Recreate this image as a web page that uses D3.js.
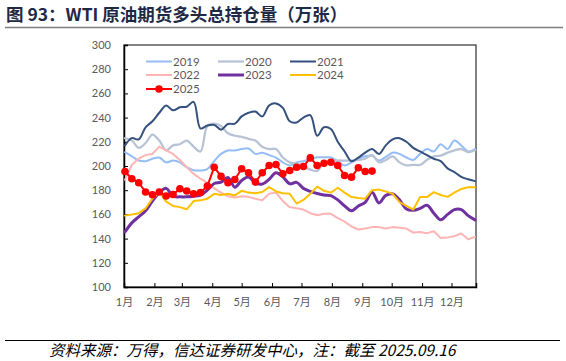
<!DOCTYPE html>
<html><head><meta charset="utf-8">
<script src="https://cdn.jsdelivr.net/npm/d3@7"></script>
<style>
html,body{margin:0;padding:0;background:#fff;}
svg{display:block;}
</style></head>
<body>
<svg id="c" width="566" height="361"></svg>
<script>
const monthLabels = ['1月','2月','3月','4月','5月','6月','7月','8月','9月','10月','11月','12月'];
const monthStartDays = [0,31,59,90,120,151,181,212,243,273,304,334];
const yTicks = [100,120,140,160,180,200,220,240,260,280,300];
const seriesNames = ['2019','2020','2021','2022','2023','2024','2025'];

const s2019 = [211.4,208,204.5,204,206,207,203,204.5,203,199,196.5,196.3,197.5,204,210,212.8,212.8,214,214.5,210,211,209,207,203,200.4,203,204,205.5,207.2,207.2,207,204,200.4,203,206,208,208.6,204.5,207.5,211,210,207,205,210,214,212,218,214,221,217,212,214];
const s2020 = [223,221,215,219,226,221,213,217,218,221,216,212,233,235,233,227,225,224,222.5,221,216,214,214,207,203,202,200,197,196,203,204,204.5,204.5,204.5,205,206,209,203,205,208,203,200.5,201,201,205,208,208.6,211,213,214,211.5,213];
const s2021 = [217,223,222,232,237,244,250,246,248.5,249,253,231,233.5,234,230,234.7,235,241,244,245,241,250,251.7,248,237,236,240,242,225,232,230.6,220,212,204,207,211,214,210,217,222,223,220,215,212,209,206,204,198,195,191,189,187.5];
const s2022 = [188.6,201,206,209,210,216,213,210,205,199,193.5,189.5,186,181.5,178,175,174,175,174.5,173,171.6,177,178,171,166,165,164,161,159.3,160.5,160.5,157,154,150,147.5,148.3,149.5,149.5,148.3,149.5,149,148.3,145,145.5,144.5,146,140.5,141,142,144.2,139.5,141.4];
const s2023 = [145.5,153,158,163,171,178,181.5,175,174.5,174.5,175,176,180,185.5,186.7,190.5,182.5,188,190.8,186,185,189,194.5,191,185.3,186.5,181.5,179,177.3,176,175.5,172,167,163,167,170,178.4,169.5,175.7,177,172,164.5,163.4,165,167.5,161,155.5,160,164,164,159,155.5];
const s2024 = [159,160,161,165,173,178.4,170.5,167,166,164.2,171,171.6,173,177,176,177,175.7,179.5,178,177.5,178.5,182.5,179,177.5,177.1,169,172,177,183,179.5,178,182,178,174.3,173.5,173,180,180.5,179,177,170.2,167,164,174.3,174.3,178.4,176,174.5,178,181,182.5,182.5];
const s2025 = [195.5,189.5,186.2,178.5,176.3,178.5,175.2,176.5,181.2,179.3,177.1,178,183.4,199,191.4,186.2,188.9,197.7,194.4,186.7,194.4,200.4,201.2,193.6,196.3,199,199.6,206.7,200.4,202.3,203.1,200.4,192.2,190.8,198.5,195.5,195.8];

const colors = {'2019':'#95bdf5','2020':'#b7c3d5','2021':'#34507e','2022':'#ffb4b4','2023':'#7030a0','2024':'#ffc000','2025':'#ff0000'};
const widths = {'2019':2,'2020':2.3,'2021':2,'2022':2,'2023':3,'2024':2,'2025':2};
const smooth = {'2019':true,'2020':true,'2021':true,'2022':false,'2023':true,'2024':false,'2025':false};
const dataMap = {'2019':s2019,'2020':s2020,'2021':s2021,'2022':s2022,'2023':s2023,'2024':s2024,'2025':s2025};

const svg = d3.select('#c');
const L = 124, R = 476, T = 45, B = 287;
const x = d3.scaleLinear().domain([0, 359]).range([L, R]);
const y = d3.scaleLinear().domain([100, 300]).range([B, T]);
const gray = '#595959';
const numFont = 'Lato, "Noto Sans CJK SC", sans-serif';

// Title
svg.append('text').attr('x', 6).attr('y', 20.5)
  .attr('font-family', '"Noto Sans CJK SC", sans-serif').attr('font-weight', 'bold')
  .attr('font-size', 17.5).attr('fill', '#1e2a44')
  .text('图 93：WTI 原油期货多头总持仓量（万张）');
svg.append('line').attr('x1', 5).attr('x2', 563).attr('y1', 27.5).attr('y2', 27.5)
  .attr('stroke', '#7f7f7f').attr('stroke-width', 1.5);

// plot frame
svg.append('rect').attr('x', L).attr('y', T).attr('width', R - L).attr('height', B - T)
  .attr('fill', 'none').attr('stroke', '#404040').attr('stroke-width', 1.3);

// Y axis
const yAxis = d3.axisLeft(y).tickValues(yTicks).tickSize(-4).tickPadding(13).tickFormat(d3.format('d'));
const gy = svg.append('g').attr('transform', `translate(${L},0)`).call(yAxis);
gy.select('.domain').attr('stroke', '#000').attr('stroke-width', 1.5);
gy.selectAll('.tick line').attr('stroke', '#000');
gy.selectAll('.tick text').attr('fill', gray).attr('font-size', 11).attr('font-family', numFont);

// X axis
const xAxis = d3.axisBottom(x).tickValues(monthStartDays).tickSize(-4).tickPadding(11)
  .tickFormat((d, i) => monthLabels[i]);
const gx = svg.append('g').attr('transform', `translate(0,${B})`).call(xAxis);
gx.select('.domain').attr('stroke', '#000').attr('stroke-width', 1.5);
gx.selectAll('.tick line').attr('stroke', '#000');
gx.selectAll('.tick text').attr('fill', gray).attr('font-size', 11).attr('font-family', numFont);

// lines
const dayOf = i => 1 + 7 * i;
seriesNames.forEach(name => {
  const vals = dataMap[name];
  const line = d3.line().x((d, i) => x(dayOf(i))).y(d => y(d))
    .curve(smooth[name] ? d3.curveCatmullRom.alpha(0.5) : d3.curveLinear);
  svg.append('path').datum(vals).attr('d', line).attr('fill', 'none')
    .attr('stroke', colors[name]).attr('stroke-width', widths[name])
    .attr('stroke-linejoin', 'round').attr('stroke-linecap', 'round');
});
svg.append('g').selectAll('circle').data(s2025).join('circle')
  .attr('cx', (d, i) => x(dayOf(i))).attr('cy', d => y(d)).attr('r', 3.8)
  .attr('fill', colors['2025']);

// Legend
const legendPos = {
  '2019': [146, 61.5], '2020': [218, 61.5], '2021': [290, 61.5],
  '2022': [146, 75], '2023': [218, 75], '2024': [290, 75],
  '2025': [146, 89]
};
seriesNames.forEach(name => {
  const [lx, ly] = legendPos[name];
  svg.append('line').attr('x1', lx).attr('x2', lx + 26).attr('y1', ly).attr('y2', ly)
    .attr('stroke', colors[name]).attr('stroke-width', widths[name]);
  if (name === '2025') {
    svg.append('circle').attr('cx', lx + 13).attr('cy', ly).attr('r', 3.8).attr('fill', colors[name]);
  }
  svg.append('text').attr('x', lx + 27).attr('y', ly + 4)
    .attr('font-family', numFont).attr('font-size', 11.5).attr('fill', gray).text(name);
});

// Footer
svg.append('line').attr('x1', 5).attr('x2', 560).attr('y1', 340.5).attr('y2', 340.5)
  .attr('stroke', '#000').attr('stroke-width', 1);
svg.append('text').attr('x', 49).attr('y', 356)
  .attr('font-family', '"Noto Sans CJK SC", sans-serif').attr('font-style', 'italic')
  .attr('font-size', 15.5).attr('fill', '#000')
  .text('资料来源：万得，信达证券研发中心，注：截至 2025.09.16');
</script>
</body></html>
